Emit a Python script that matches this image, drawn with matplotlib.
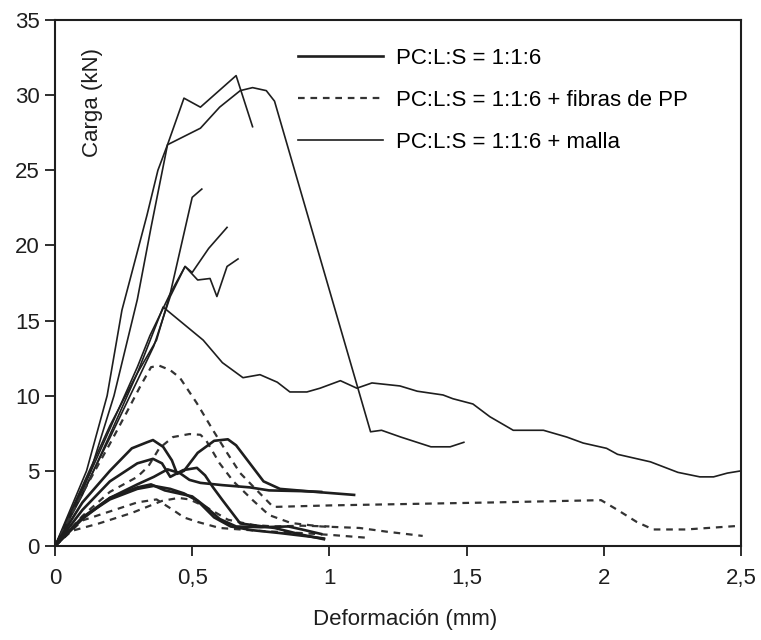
import matplotlib
matplotlib.use('Agg')
import matplotlib.pyplot as plt
from matplotlib.lines import Line2D

plt.rcParams['font.family'] = ['Liberation Sans', 'DejaVu Sans']

# --- data ---
x_ticks = [0, 0.5, 1, 1.5, 2, 2.5]
x_tick_labels = ['0', '0,5', '1', '1,5', '2', '2,5']
y_ticks = [0, 5, 10, 15, 20, 25, 30, 35]
legend_labels = ['PC:L:S = 1:1:6',
                 'PC:L:S = 1:1:6 + fibras de PP',
                 'PC:L:S = 1:1:6 + malla']

# PC:L:S = 1:1:6 (thick solid)
pc1_x = [0, 0.1, 0.2, 0.28, 0.335, 0.357, 0.394, 0.426, 0.445, 0.47, 0.52, 0.58, 0.63, 0.66, 0.71, 0.76, 0.82, 0.95, 1.09]
pc1_y = [0, 2.9, 5.0, 6.5, 6.9, 7.05, 6.6, 5.7, 4.8, 5.0, 6.2, 7.0, 7.1, 6.7, 5.5, 4.3, 3.8, 3.6, 3.4]
pc2_x = [0, 0.1, 0.2, 0.3, 0.357, 0.39, 0.42, 0.467, 0.517, 0.547, 0.576, 0.61, 0.675, 0.80, 0.90, 0.98]
pc2_y = [0, 2.4, 4.3, 5.5, 5.8, 5.5, 4.6, 5.05, 5.2, 4.7, 3.9, 3.06, 1.5, 1.2, 0.75, 0.45]
pc3_x = [0, 0.1, 0.2, 0.3, 0.36, 0.41, 0.455, 0.49, 0.53, 0.61, 0.71, 0.78, 0.90, 0.97]
pc3_y = [0, 1.8, 3.2, 4.1, 4.6, 5.1, 4.85, 4.4, 4.2, 4.05, 3.9, 3.7, 3.65, 3.6]
pc4_x = [0, 0.1, 0.2, 0.3, 0.36, 0.42, 0.47, 0.52, 0.58, 0.64, 0.72, 0.82, 0.94, 0.98]
pc4_y = [0, 1.9, 3.1, 3.8, 4.0, 3.8, 3.5, 3.0, 1.9, 1.3, 1.05, 0.86, 0.6, 0.5]
pc5_x = [0, 0.1, 0.2, 0.3, 0.35, 0.40, 0.45, 0.50, 0.55, 0.60, 0.66, 0.75, 0.85, 0.90, 0.97]
pc5_y = [0, 1.9, 3.2, 3.9, 4.1, 3.7, 3.5, 3.3, 2.6, 1.8, 1.3, 1.25, 1.3, 1.1, 0.8]

# PC:L:S = 1:1:6 + fibras de PP (dashed)
pp1_x = [0, 0.1, 0.2, 0.26, 0.31, 0.35, 0.38, 0.42, 0.455, 0.517, 0.576, 0.627, 0.675, 0.736, 0.795,
         1.0, 1.3, 1.6, 1.99, 2.05, 2.12, 2.18, 2.3, 2.5]
pp1_y = [0, 3.5, 6.8, 8.85, 10.6, 11.9, 12.0, 11.7, 11.2, 9.5, 7.7, 6.2, 4.85, 3.7, 2.6,
         2.7, 2.8, 2.9, 3.05, 2.4, 1.6, 1.1, 1.1, 1.35]
pp2_x = [0, 0.1, 0.2, 0.3, 0.34, 0.38, 0.43, 0.49, 0.53, 0.55, 0.60, 0.65, 0.72, 0.78, 0.86, 0.97,
         1.11, 1.21, 1.34]
pp2_y = [0, 2.0, 3.6, 4.6, 5.3, 6.5, 7.25, 7.45, 7.4, 7.05, 5.5, 4.3, 3.06, 2.06, 1.53, 1.3,
         1.2, 0.95, 0.67]
pp3_x = [0, 0.1, 0.2, 0.3, 0.37, 0.43, 0.47, 0.52, 0.6, 0.75, 0.9, 1.01, 1.15]
pp3_y = [0, 1.7, 2.3, 2.9, 3.1, 2.4, 1.9, 1.6, 1.2, 1.0, 0.86, 0.73, 0.53]
pp4_x = [0, 0.06, 0.16, 0.28, 0.39, 0.45, 0.49, 0.55, 0.63, 0.72, 0.8, 0.9, 1.0]
pp4_y = [0, 1.0, 1.5, 2.2, 3.0, 3.2, 3.1, 2.6, 1.75, 1.4, 1.3, 1.35, 1.3]

# PC:L:S = 1:1:6 + malla (thin solid)
ma1_x = [0, 0.115, 0.19, 0.244, 0.273, 0.335, 0.375, 0.41, 0.53, 0.6, 0.675, 0.72, 0.77, 0.80,
         1.15, 1.19, 1.26, 1.37, 1.44, 1.49]
ma1_y = [0, 5.0, 10.0, 15.7, 17.7, 22.0, 25.0, 26.7, 27.8, 29.2, 30.3, 30.5, 30.3, 29.6,
         7.6, 7.7, 7.25, 6.6, 6.6, 6.9]
ma2_x = [0, 0.13, 0.215, 0.30, 0.35, 0.41, 0.47, 0.53, 0.66, 0.72]
ma2_y = [0, 5.0, 10.0, 16.4, 21.2, 26.7, 29.8, 29.2, 31.3, 27.9]
ma3_x = [0, 0.1, 0.2, 0.3, 0.37, 0.42, 0.46, 0.50, 0.535]
ma3_y = [0, 4.0, 8.0, 11.5, 13.7, 16.8, 20.0, 23.2, 23.75]
ma4_x = [0, 0.1, 0.2, 0.3, 0.346, 0.42, 0.474, 0.50, 0.56, 0.627]
ma4_y = [0, 3.7, 7.8, 11.9, 14.0, 16.8, 18.6, 18.2, 19.8, 21.2]
ma5_x = [0, 0.1, 0.2, 0.3, 0.36, 0.42, 0.474, 0.52, 0.565, 0.59, 0.627, 0.667]
ma5_y = [0, 3.5, 7.2, 11.0, 13.3, 16.6, 18.6, 17.7, 17.8, 16.6, 18.6, 19.1]
ma6_x = [0, 0.1, 0.2, 0.3, 0.394, 0.467, 0.54, 0.61, 0.685, 0.747, 0.81, 0.856, 0.918, 0.966,
         1.04, 1.10, 1.155, 1.257, 1.32, 1.414, 1.45, 1.523, 1.585, 1.67, 1.78, 1.865, 1.925,
         2.01, 2.05, 2.17, 2.27, 2.35, 2.40, 2.45, 2.50]
ma6_y = [0, 3.4, 7.4, 11.5, 15.9, 14.8, 13.7, 12.2, 11.2, 11.4, 10.9, 10.25, 10.25, 10.5,
         11.0, 10.5, 10.85, 10.65, 10.3, 10.05, 9.8, 9.45, 8.6, 7.7, 7.7, 7.25, 6.85,
         6.5, 6.1, 5.6, 4.9, 4.6, 4.6, 4.85, 5.0]

pc_series = [(pc1_x, pc1_y), (pc2_x, pc2_y), (pc3_x, pc3_y), (pc4_x, pc4_y), (pc5_x, pc5_y)]
pp_series = [(pp1_x, pp1_y), (pp2_x, pp2_y), (pp3_x, pp3_y), (pp4_x, pp4_y)]
ma_series = [(ma1_x, ma1_y), (ma2_x, ma2_y), (ma3_x, ma3_y), (ma4_x, ma4_y),
             (ma5_x, ma5_y), (ma6_x, ma6_y)]

ink = '#1e1e1e'
pc_style = dict(color=ink, lw=1.9, solid_joinstyle='round')
pp_style = dict(color='#333333', lw=1.6, linestyle=(0, (3, 2.6)))
ma_style = dict(color=ink, lw=1.2, solid_joinstyle='round')
fs = 16

fig = plt.figure(figsize=(7.61, 6.40), dpi=100)
ax = fig.add_axes([55 / 761, 94 / 640, 686 / 761, 526 / 640])

for xs, ys in ma_series:
    ax.plot(xs, ys, **ma_style)
for xs, ys in pp_series:
    ax.plot(xs, ys, **pp_style)
for xs, ys in pc_series:
    ax.plot(xs, ys, **pc_style)

ax.set_xlim(0, 2.5)
ax.set_ylim(0, 35)
ax.set_xticks(x_ticks)
ax.set_xticklabels(x_tick_labels)
ax.set_yticks(y_ticks)
ax.tick_params(direction='out', length=7, width=1.3, labelsize=fs, colors=ink, pad=4)
ax.tick_params(axis='x', pad=9)
for s in ax.spines.values():
    s.set_linewidth(1.5)
    s.set_color(ink)

ax.text(0.135, 29.5, 'Carga (kN)', rotation=90, ha='center', va='center',
        fontsize=fs, color=ink)
fig.text(405 / 761, 1 - 620 / 640, 'Deformación (mm)', ha='center', va='center',
         fontsize=fs, color=ink)

handles = [Line2D([], [], **pc_style), Line2D([], [], **pp_style), Line2D([], [], **ma_style)]
ax.legend(handles, legend_labels, loc='upper left', bbox_to_anchor=(0.354, 0.947),
          frameon=False, fontsize=fs, handlelength=3.85, handletextpad=0.55,
          labelspacing=0.95, borderpad=0, borderaxespad=0)

plt.savefig('out.png', dpi=100)
